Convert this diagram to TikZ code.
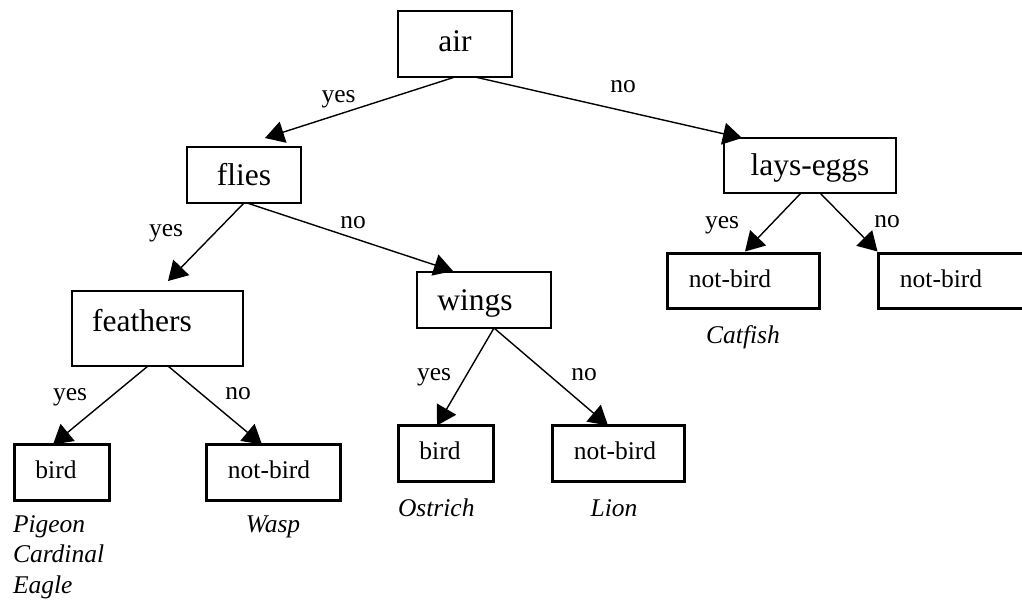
\documentclass[tikz,border=0pt]{standalone}
\usepackage{fontspec}
\setmainfont{Liberation Serif}
\usetikzlibrary{arrows.meta,calc}

\newcommand{\padr}[1]{\kern#1\relax}

\begin{document}
\begin{tikzpicture}[x=1pt,y=1pt,
  every node/.style={inner sep=0pt, outer sep=0pt},
  test/.style={draw, line width=1.6pt, font=\fontsize{31.5}{36}\selectfont, text height=21pt},
  leaf/.style={draw, line width=3.2pt, font=\fontsize{25.5}{30}\selectfont, text height=17pt, text depth=4.5pt},
  branch/.style={font=\fontsize{25.5}{30}\selectfont},
  example/.style={font=\fontsize{25.5}{30}\selectfont\itshape, anchor=base},
  edge/.style={line width=1.4pt, -{Triangle[length=19pt,width=22pt]}}]

\useasboundingbox (0,0) rectangle (1022,-600);
\clip (0,0) rectangle (1022,-600);

% attribute tests
\node[test, minimum width=114pt, minimum height=66pt, text depth=7pt] (air) at (455,-44) {air};
\node[test, minimum width=114pt, minimum height=56pt, text depth=1pt] (flies) at (244,-175) {flies};
\node[test, minimum width=172pt, minimum height=55pt, text depth=2pt] (lays) at (810,-165.5) {lays-eggs};
\node[test, minimum width=171pt, minimum height=75pt, text depth=16pt] (feathers) at (157.5,-328.5) {feathers\padr{31pt}};
\node[test, minimum width=134pt, minimum height=56pt, text depth=1pt] (wings) at (484,-300) {wings\padr{18pt}};

% decisions
\node[leaf, minimum width=95pt, minimum height=56pt] (bird1) at (62,-472.5) {bird\padr{12pt}};
\node[leaf, minimum width=134pt, minimum height=56pt] (nb1) at (273.5,-472.5) {not-bird\padr{9pt}};
\node[leaf, minimum width=95pt, minimum height=56pt] (bird2) at (446,-453.5) {bird\padr{12pt}};
\node[leaf, minimum width=132pt, minimum height=56pt] (nb2) at (618.5,-453.5) {not-bird\padr{7pt}};
\node[leaf, minimum width=152pt, minimum height=55pt] (nb3) at (743.5,-281) {not-bird\padr{27pt}};
\node[leaf, minimum width=152pt, minimum height=55pt] (nb4) at (954.5,-281) {not-bird\padr{27pt}};

% branches
\draw[edge] (air.south) -- ($(flies.north)+(21,9)$);
\draw[edge] ($(air.south)+(20,0)$) -- ($(lays.north)+(-68,0)$);
\draw[edge] (flies.south) -- ($(feathers.north)+(10.5,10)$);
\draw[edge] ($(flies.south)+(3,0)$) -- ($(wings.north)+(-31,1)$);
\draw[edge] ($(feathers.south)+(-9.5,0)$) -- ($(bird1.north)+(-9,0)$);
\draw[edge] ($(feathers.south)+(10.5,0)$) -- ($(nb1.north)+(-11.5,0)$);
\draw[edge] ($(wings.south)+(10,0)$) -- ($(bird2.north)+(-9,0)$);
\draw[edge] ($(wings.south)+(10,0)$) -- ($(nb2.north)+(-10.5,0)$);
\draw[edge] ($(lays.south)+(-9,0)$) -- ($(nb3.north)+(1.5,2)$);
\draw[edge] ($(lays.south)+(10,0)$) -- ($(nb4.north west)+(-1,2)$);

% branch labels
\node[branch] (l1) at (338.5,-99) {yes};
\node[branch] (l2) at (623,-87) {no};
\node[branch] (l3) at (166,-233) {yes};
\node[branch] (l4) at (353,-223) {no};
\node[branch] (l5) at (722,-225) {yes};
\node[branch] (l6) at (887,-222) {no};
\node[branch] (l7) at (70,-397) {yes};
\node[branch] (l8) at (238,-394) {no};
\node[branch] (l9) at (434,-377) {yes};
\node[branch] (l10) at (584,-375) {no};

% training examples
\node[example, anchor=base west] (e1) at (13,-532) {Pigeon};
\node[example, anchor=base west] (e2) at (13,-562) {Cardinal};
\node[example, anchor=base west] (e3) at (13,-593) {Eagle};
\node[example] (e4) at (273,-532) {Wasp};
\node[example, anchor=base west] (e5) at (398,-516) {Ostrich};
\node[example] (e6) at (614,-516) {Lion};
\node[example] (e7) at (743,-343) {Catfish};
\end{tikzpicture}
\end{document}
